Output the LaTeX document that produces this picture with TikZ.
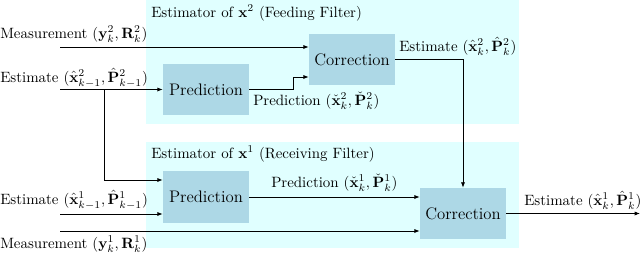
\documentclass[tikz,border=0pt]{standalone}
\usetikzlibrary{arrows.meta}
\definecolor{panel}{HTML}{E0FFFF}
\definecolor{boxc}{HTML}{ADD8E6}
\begin{document}
\begin{tikzpicture}[x=0.67pt,y=-0.67pt,
 blk/.style={fill=boxc, minimum width=57.6pt, minimum height=34.2pt, font=\fontsize{11.2}{13}\selectfont, inner sep=0pt},
 lbl/.style={anchor=base west, inner sep=0pt},
 conn/.style={line width=0.55pt, -{Latex[length=3.6pt,width=2.8pt]}}]
\useasboundingbox (0,0) rectangle (640,253);
\fill[panel] (146,0) rectangle (519,124);
\fill[panel] (146,142) rectangle (519,248);
\node[blk] (p2) at (206,89.5) {Prediction};
\node[blk] (c2) at (352,59.5) {Correction};
\node[blk] (p1) at (206,197) {Prediction};
\node[blk] (c1) at (463,213.5) {Correction};
\coordinate (m2) at (60,47);
\coordinate (e2) at (60,89.5);
\coordinate (br) at (104,89.5);
\coordinate (e1) at (60,214);
\coordinate (m1) at (60,231);
\coordinate (out) at (640,213.5);
\coordinate (bend2) at (293,89.5);
% connectors
\draw[conn] (m2) -- (m2 -| c2.west);
\draw[conn] (e2) -- (p2.west);
\draw[conn] (br) |- (p1.west |- 0,180);
\draw[conn] (p2.east) -- (bend2) |- (c2.west |- 0,77);
\draw[conn] (c2.east) -| (c1.north);
\draw[conn] (e1) -- (e1 -| p1.west);
\draw[conn] (p1.east) -- (c1.west |- p1.east);
\draw[conn] (m1) -- (m1 -| c1.west);
\draw[conn] (c1.east) -- (out);
% labels
\node[lbl] (t2) at (151,17) {Estimator of $\mathbf{x}^2$ (Feeding Filter)};
\node[lbl] (lm2) at (0,38) {Measurement $(\mathbf{y}_k^2, \mathbf{R}_k^2)$};
\node[lbl] (le2) at (0,82) {Estimate $(\hat{\mathbf{x}}_{k-1}^2, \hat{\mathbf{P}}_{k-1}^2)$};
\node[lbl] (lp2) at (253,105) {Prediction $(\check{\mathbf{x}}_k^2, \check{\mathbf{P}}_k^2)$};
\node[lbl] (lo2) at (399,51) {Estimate $(\hat{\mathbf{x}}_k^2, \hat{\mathbf{P}}_k^2)$};
\node[lbl] (t1) at (151,158) {Estimator of $\mathbf{x}^1$ (Receiving Filter)};
\node[lbl] (lp1) at (271,187) {Prediction $(\check{\mathbf{x}}_k^1, \check{\mathbf{P}}_k^1)$};
\node[lbl] (le1) at (0,204) {Estimate $(\hat{\mathbf{x}}_{k-1}^1, \hat{\mathbf{P}}_{k-1}^1)$};
\node[lbl] (lm1) at (0,248) {Measurement $(\mathbf{y}_k^1, \mathbf{R}_k^1)$};
\node[lbl] (lo1) at (524,205) {Estimate $(\hat{\mathbf{x}}_k^1, \hat{\mathbf{P}}_k^1)$};
\end{tikzpicture}
\end{document}
